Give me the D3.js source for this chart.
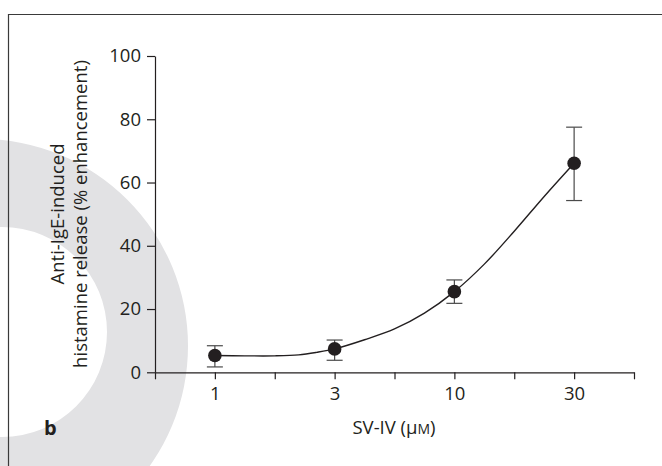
<!DOCTYPE html>
<html><head><meta charset="utf-8">
<script src="https://cdn.jsdelivr.net/npm/d3@7"></script>
<style>
html,body{margin:0;padding:0;background:#fff;}
svg{display:block;}
text{font-family:"Open Sans","Noto Sans",sans-serif;fill:#231f20;}
</style></head>
<body>
<svg id="c" width="662" height="466"></svg>
<script>
// ---- data ----
const doseLabels = ["1", "3", "10", "30"];            // SV-IV concentration (µM)
const doseSlots  = [1, 3, 5, 7];                       // positions on the evenly spaced axis
const meanValues = [5.3, 7.4, 25.5, 66.1];             // % enhancement
const errUpper   = [8.4, 10.2, 29.2, 77.5];
const errLower   = [1.7, 3.8, 21.8, 54.3];
const yTicks     = [0, 20, 40, 60, 80, 100];
const xTickSlots = [0, 1, 2, 3, 4, 5, 6, 7, 8];
// fitted curve (axis slot, value)
const curveSlot  = [1, 1.5, 2, 2.4, 2.7, 3, 3.5, 4, 4.5, 5, 5.5, 6, 6.5, 7];
const curveValue = [5.3, 5.2, 5.2, 5.5, 6.3, 7.4, 10.3, 13.7, 18.7, 25.5, 34.2, 44.6, 55.6, 66.1];

const FS = "18.5px";
const svg = d3.select("#c");

// background decorative crescent
const ring = d3.path();
ring.moveTo(-19 + 207, 346); ring.arc(-19, 346, 207, 0, 2 * Math.PI);
ring.moveTo(2 + 105, 332); ring.arc(2, 332, 105, 0, 2 * Math.PI);
svg.append("path").attr("d", ring.toString()).attr("fill", "#e2e2e4").attr("fill-rule", "evenodd");

// frame
svg.append("path").attr("d", "M8.5,470 V14.5 H670").attr("fill", "none").attr("stroke", "#3a3a3a").attr("stroke-width", 1.2);

const x = d3.scaleLinear().domain([0, 8]).range([155, 634]);
const y = d3.scaleLinear().domain([0, 100]).range([372.3, 56]);

// y axis
const yAxis = svg.append("g").attr("transform", "translate(155,0)")
  .call(d3.axisLeft(y).tickValues(yTicks).tickSize(8).tickSizeOuter(0).tickPadding(6));
yAxis.selectAll("text").style("font-size", FS);
// x axis
const labelFor = new Map(doseSlots.map((s, i) => [s, doseLabels[i]]));
const xAxis = svg.append("g").attr("transform", "translate(0,372.3)")
  .call(d3.axisBottom(x).tickValues(xTickSlots).tickFormat(d => labelFor.get(d) || "").tickSize(7).tickSizeOuter(0).tickPadding(8));
xAxis.selectAll("text").style("font-size", FS);
svg.selectAll(".domain, .tick line").attr("stroke", "#231f20").attr("stroke-width", 1.2);

// curve
svg.append("path")
  .datum(curveSlot.map((s, i) => [s, curveValue[i]]))
  .attr("d", d3.line().x(d => x(d[0])).y(d => y(d[1])).curve(d3.curveCatmullRom.alpha(0.5)))
  .attr("fill", "none").attr("stroke", "#231f20").attr("stroke-width", 1.4);

// error bars
const eb = svg.append("g").attr("stroke", "#4a4a4a").attr("stroke-width", 1.2);
doseSlots.forEach((s, i) => {
  eb.append("line").attr("x1", x(s)).attr("x2", x(s)).attr("y1", y(errUpper[i])).attr("y2", y(errLower[i]));
  eb.append("line").attr("x1", x(s) - 8).attr("x2", x(s) + 8).attr("y1", y(errUpper[i])).attr("y2", y(errUpper[i]));
  eb.append("line").attr("x1", x(s) - 8).attr("x2", x(s) + 8).attr("y1", y(errLower[i])).attr("y2", y(errLower[i]));
});
// points
svg.append("g").selectAll("circle").data(doseSlots).join("circle")
  .attr("cx", d => x(d)).attr("cy", (d, i) => y(meanValues[i])).attr("r", 6.8).attr("fill", "#231f20");

// axis titles
const xt = svg.append("text").attr("x", 394).attr("y", 434).attr("text-anchor", "middle").style("font-size", FS);
xt.append("tspan").text("SV-IV (µ");
xt.append("tspan").style("font-size", "14px").text("M");
xt.append("tspan").text(")");

const yt = svg.append("text").attr("transform", "translate(0,214) rotate(-90)").attr("text-anchor", "middle").style("font-size", FS);
yt.append("tspan").attr("x", 0).attr("y", 64).text("Anti-IgE-induced");
yt.append("tspan").attr("x", 0).attr("y", 87).text("histamine release (% enhancement)");

svg.append("text").attr("x", 44).attr("y", 435).style("font-size", "20px").style("font-weight", "bold").text("b");
</script>
</body></html>
